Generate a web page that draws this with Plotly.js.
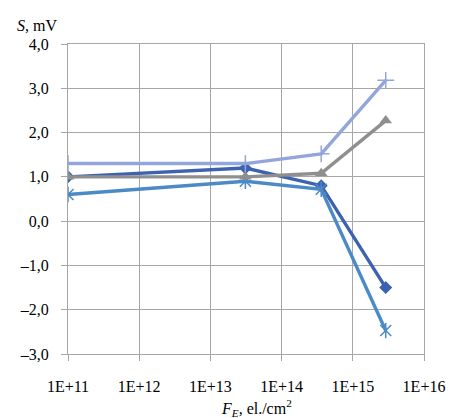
<!DOCTYPE html>
<html>
<head>
<meta charset="utf-8">
<script src="https://cdn.plot.ly/plotly-3.0.1.min.js"></script>
<style>html,body{margin:0;padding:0;background:#fff;}#chart{width:459px;height:418px;}</style>
</head>
<body>
<div id="chart"></div>
<script>
var fluence = [1e11, 3.1e13, 3.6e14, 2.9e15];
var seriesDiamond = [1.0, 1.2, 0.8, -1.5];
var seriesAsterisk = [0.6, 0.9, 0.72, -2.47];
var seriesTriangle = [1.0, 1.0, 1.08, 2.27];
var seriesPlus = [1.3, 1.3, 1.52, 3.18];
var xTickVals = [1e11, 1e12, 1e13, 1e14, 1e15, 1e16];
var xTickText = ['1E+11', '1E+12', '1E+13', '1E+14', '1E+15', '1E+16'];
var yTickVals = [-3, -2, -1, 0, 1, 2, 3, 4];
var yTickText = ['\u20133,0', '\u20132,0', '\u20131,0', '0,0', '1,0', '2,0', '3,0', '4,0'];

var font = {family: 'Liberation Serif', size: 16, color: '#000'};

var traces = [
  {x: fluence, y: seriesDiamond, mode: 'lines+markers', line: {color: '#3D62B0', width: 3.4},
   marker: {symbol: 'diamond', size: 10, color: '#3D62B0'}},
  {x: fluence, y: seriesAsterisk, mode: 'lines+markers', line: {color: '#4A8AC6', width: 3.4},
   marker: {symbol: 'x-thin-open', size: 11, color: '#4A8AC6', line: {color: '#4A8AC6', width: 1.5}}},
  {x: fluence, y: seriesAsterisk, mode: 'markers',
   marker: {symbol: 'line-ns-open', size: 11, color: '#4A8AC6', line: {color: '#4A8AC6', width: 1.5}}},
  {x: fluence, y: seriesTriangle, mode: 'lines+markers', line: {color: '#8F8F8F', width: 3.4},
   marker: {symbol: 'triangle-up', size: 11, color: '#8F8F8F'}},
  {x: fluence, y: seriesPlus, mode: 'lines+markers', line: {color: '#93A6DC', width: 3.4},
   marker: {symbol: 'cross-thin-open', size: 12, color: '#93A6DC', line: {color: '#93A6DC', width: 1.5}}}
];

var layout = {
  width: 459, height: 418,
  margin: {l: 68, r: 35, t: 44, b: 64},
  paper_bgcolor: '#fff', plot_bgcolor: '#fff',
  showlegend: false,
  font: font,
  xaxis: {
    type: 'log', range: [11, 16],
    tickvals: xTickVals, ticktext: xTickText,
    showgrid: true, gridcolor: '#A6A6A6', gridwidth: 1,
    ticks: 'outside', ticklen: 6, tickcolor: '#A6A6A6',
    showline: true, linecolor: '#A6A6A6', mirror: true,
    zeroline: false, tickfont: font, ticklabelstandoff: 12
  },
  yaxis: {
    range: [-3, 4],
    tickvals: yTickVals, ticktext: yTickText,
    showgrid: true, gridcolor: '#A6A6A6', gridwidth: 1,
    ticks: 'outside', ticklen: 6, tickcolor: '#A6A6A6',
    showline: true, linecolor: '#A6A6A6', mirror: true,
    zeroline: false, tickfont: font, ticklabelstandoff: 9
  },
  annotations: [
    {text: '<i>S</i>, mV', xref: 'paper', yref: 'paper', x: -0.148, y: 1.0, xanchor: 'left', yanchor: 'bottom',
     yshift: 8, showarrow: false, font: font},
    {text: '<i>F<sub>E</sub></i>, el./cm<sup>2</sup>', xref: 'paper', yref: 'paper', x: 0.53, y: 0, xanchor: 'center', yanchor: 'top',
     yshift: -41, showarrow: false, font: font}
  ]
};

Plotly.newPlot('chart', traces, layout, {displayModeBar: false, staticPlot: true});
</script>
</body>
</html>
